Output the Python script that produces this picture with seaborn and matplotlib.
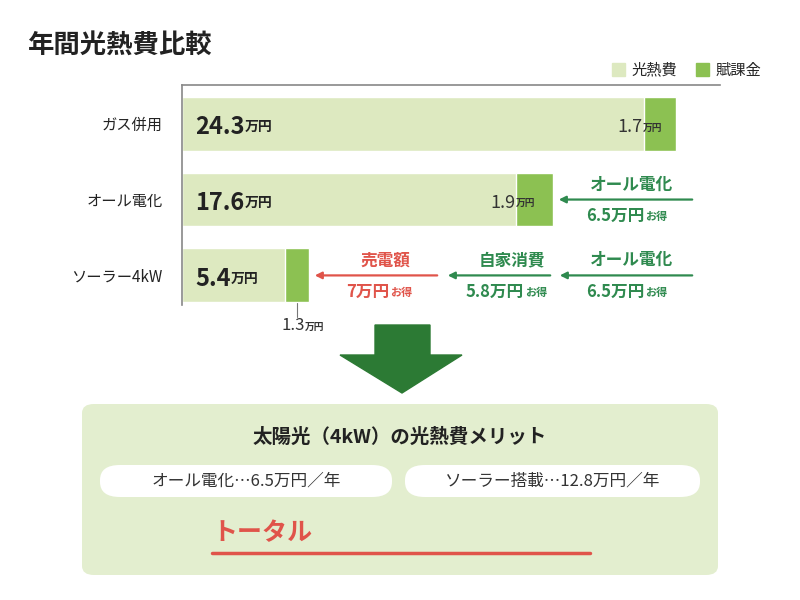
import numpy as np
import pandas as pd
import matplotlib.pyplot as plt
import seaborn as sns
from matplotlib.patches import FancyBboxPatch, Polygon, Patch

sns.set_style("white")
plt.rcParams['font.family'] = ['Noto Sans CJK JP', 'DejaVu Sans']

categories = ['ガス併用', 'オール電化', 'ソーラー4kW']
energy_cost = [24.3, 17.6, 5.4]     # 光熱費 (万円)
levy = [1.7, 1.9, 1.3]              # 賦課金 (万円)
total_label = ['トータル', '19.3', '万円／年 お得']

LIGHT = '#dde9c0'
DARK = '#8cc152'
GREEN = '#2f8a4f'
RED = '#e0544a'
BOX = '#e3eecf'

df = pd.DataFrame({'cat': categories, 'cost': energy_cost, 'levy': levy})
df['total'] = df['cost'] + df['levy']

fig = plt.figure(figsize=(8, 6), dpi=100)
W, H = 800, 600
def fx(px): return px / W
def fy(py): return 1 - py / H

ax = fig.add_axes([fx(182), fy(305), fx(720) - fx(182), (305 - 85) / H])
sns.barplot(data=df, x='total', y='cat', color=DARK, width=0.71, saturation=1, ax=ax)
sns.barplot(data=df, x='cost', y='cat', color=LIGHT, width=0.71, saturation=1, ax=ax)
ax.set_xlim(0, 538 / 19)
ax.set_ylim(2.39, -0.51)
ax.set_xlabel('')
ax.set_ylabel('')
ax.set_xticks([])
for s in ['right', 'bottom']:
    ax.spines[s].set_visible(False)
for s in ['left', 'top']:
    ax.spines[s].set_color('#888888')
    ax.spines[s].set_linewidth(1.2)
ax.tick_params(axis='y', length=0, pad=14)
ax.set_yticks(range(len(categories)))
ax.set_yticklabels(categories, fontsize=11, color='#222222')

for i, (c, l) in enumerate(zip(energy_cost, levy)):
    t = ax.text(0.7, i + 0.05, f'{c}', fontsize=17, fontweight='bold', va='center', color='#222222')
    ax.annotate('万円', xy=(1, 0.22), xycoords=t, fontsize=10, fontweight='bold', va='bottom', color='#222222')
    if i < 2:
        t2 = ax.text(c - 0.05, i + 0.05, f'{l}', fontsize=13, ha='right', va='center', color='#333333')
        ax.annotate('万円', xy=(1.02, 0.22), xycoords=t2, fontsize=7, fontweight='bold', va='bottom', color='#333333')
    else:
        mid = c + l / 2
        ax.plot([mid, mid], [i + 0.36, i + 0.55], color='#777777', lw=0.8, clip_on=False)
        t2 = ax.text(mid - 0.2, i + 0.66, f'{l}', fontsize=12, ha='center', va='center', color='#333333')
        ax.annotate('万円', xy=(1.02, 0.15), xycoords=t2, fontsize=7, fontweight='bold', va='bottom', color='#333333')

def px2x(px): return (px - 182) / 19

def arrow(x0, x1, y, col):
    ax.annotate('', xy=(px2x(x1), y), xytext=(px2x(x0), y),
                arrowprops=dict(arrowstyle='-|>', color=col, lw=1.6, mutation_scale=10),
                annotation_clip=False)

def label(xc, y, top, bottom, col):
    ax.text(px2x(xc), y - 0.2, top, ha='center', va='center', fontsize=12, fontweight='bold', color=col)
    t = ax.text(px2x(xc) - 0.9, y + 0.22, bottom, ha='center', va='center', fontsize=12, fontweight='bold', color=col)
    ax.annotate('お得', xy=(1.02, 0.12), xycoords=t, fontsize=8, fontweight='bold', va='bottom', color=col)

arrow(695, 556, 1, GREEN)
label(632, 1, 'オール電化', '6.5万円', GREEN)
arrow(695, 557, 2, GREEN)
arrow(553, 445, 2, GREEN)
arrow(440, 312, 2, RED)
label(632, 2, 'オール電化', '6.5万円', GREEN)
label(512, 2, '自家消費', '5.8万円', GREEN)
label(385, 2, '売電額', '7万円', RED)

fig.text(fx(28), fy(45), '年間光熱費比較', fontsize=19, fontweight='bold', va='center', color='#222222')
fig.legend(handles=[Patch(color=LIGHT, label='光熱費'), Patch(color=DARK, label='賦課金')],
           loc='center right', bbox_to_anchor=(fx(775), fy(70)), ncol=2, frameon=False,
           fontsize=11, handlelength=0.9, handleheight=0.9, handletextpad=0.4, columnspacing=1.2)

# big down arrow
pts = [(375, 325), (430, 325), (430, 355), (462, 355), (402, 393), (340, 355), (375, 355)]
fig.patches.append(Polygon([(fx(x), fy(y)) for x, y in pts], closed=True,
                           transform=fig.transFigure, color='#2c7a34'))

# summary box
fig.patches.append(FancyBboxPatch((fx(82), fy(575)), fx(636), 171 / H,
                                  boxstyle='round,pad=0,rounding_size=0.015',
                                  transform=fig.transFigure, color=BOX, lw=0))
fig.text(0.5, fy(437), '太陽光（4kW）の光熱費メリット', ha='center', va='center',
         fontsize=14, fontweight='bold', color='#222222')
for x0, x1, txt in [(100, 392, 'オール電化…6.5万円／年'), (405, 700, 'ソーラー搭載…12.8万円／年')]:
    fig.patches.append(FancyBboxPatch((fx(x0), fy(497)), fx(x1 - x0), 32 / H,
                                      boxstyle='round,pad=0,rounding_size=0.025',
                                      transform=fig.transFigure, color='white', lw=0))
    fig.text(fx((x0 + x1) / 2), fy(481), txt, ha='center', va='center', fontsize=12, color='#333333')

t1 = fig.text(fx(212), fy(540), total_label[0], fontsize=18, fontweight='bold', va='baseline', color=RED)
t2 = ax.annotate(total_label[1], xy=(1.02, 0), xycoords=t1, fontsize=31, fontweight='bold',
                 va='baseline', color=RED, annotation_clip=False)
ax.annotate(total_label[2], xy=(1.02, 0), xycoords=t2, fontsize=18, fontweight='bold',
            va='baseline', color=RED, annotation_clip=False)
fig.add_artist(plt.Line2D([fx(212), fx(590)], [fy(553), fy(553)], color=RED, lw=2.5))

fig.savefig('out.png', dpi=100)
